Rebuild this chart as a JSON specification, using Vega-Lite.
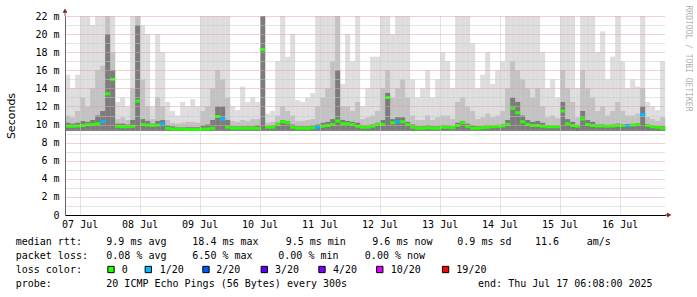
{
  "$schema": "https://vega.github.io/schema/vega-lite/v6.json",
  "background": "#ffffff",
  "padding": {"left": 5, "top": 5, "right": 2, "bottom": 2},
  "spacing": 2,
  "config": {"view": {"stroke": null}, "font": "DejaVu Sans Mono"},
  "datasets": {
    "smoke": [
      {"t":"2025-07-07T06:00Z","l":15.5,"m":11,"d":10.2,"med":9.8,"loss":0},
      {"t":"2025-07-07T08:00Z","l":14,"m":10.8,"d":10.1,"med":9.8,"loss":0},
      {"t":"2025-07-07T10:00Z","l":15.5,"m":11.5,"d":10.2,"med":9.85,"loss":0},
      {"t":"2025-07-07T12:00Z","l":22,"m":13,"d":10.4,"med":9.9,"loss":0},
      {"t":"2025-07-07T14:00Z","l":22,"m":12,"d":10.3,"med":10,"loss":0},
      {"t":"2025-07-07T16:00Z","l":21,"m":14,"d":10.5,"med":10,"loss":0},
      {"t":"2025-07-07T18:00Z","l":22,"m":16,"d":11,"med":10.1,"loss":0},
      {"t":"2025-07-07T20:00Z","l":22,"m":16.5,"d":11.5,"med":10.3,"loss":1},
      {"t":"2025-07-07T22:00Z","l":22,"m":22,"d":20,"med":13.4,"loss":0},
      {"t":"2025-07-08T00:00Z","l":22,"m":18,"d":16,"med":15,"loss":0},
      {"t":"2025-07-08T02:00Z","l":12.5,"m":10.6,"d":10.1,"med":9.8,"loss":0},
      {"t":"2025-07-08T04:00Z","l":13,"m":10.8,"d":10.1,"med":9.75,"loss":0},
      {"t":"2025-07-08T06:00Z","l":12,"m":10.5,"d":10,"med":9.75,"loss":0},
      {"t":"2025-07-08T08:00Z","l":22,"m":14,"d":10.5,"med":9.8,"loss":0},
      {"t":"2025-07-08T10:00Z","l":22,"m":22,"d":21,"med":12.6,"loss":0},
      {"t":"2025-07-08T12:00Z","l":21,"m":15,"d":10.6,"med":10,"loss":0},
      {"t":"2025-07-08T14:00Z","l":20,"m":12,"d":10.4,"med":9.95,"loss":0},
      {"t":"2025-07-08T16:00Z","l":12,"m":10.6,"d":10.1,"med":9.9,"loss":0},
      {"t":"2025-07-08T18:00Z","l":20,"m":13,"d":10.4,"med":9.95,"loss":0},
      {"t":"2025-07-08T20:00Z","l":18,"m":12,"d":10.5,"med":10.1,"loss":1},
      {"t":"2025-07-08T22:00Z","l":12.5,"m":10.5,"d":9.9,"med":9.6,"loss":0},
      {"t":"2025-07-09T00:00Z","l":11.5,"m":10.2,"d":9.8,"med":9.5,"loss":0},
      {"t":"2025-07-09T02:00Z","l":11,"m":10.1,"d":9.7,"med":9.5,"loss":0},
      {"t":"2025-07-09T04:00Z","l":12.5,"m":10.2,"d":9.7,"med":9.5,"loss":0},
      {"t":"2025-07-09T06:00Z","l":12,"m":10.3,"d":9.7,"med":9.45,"loss":0},
      {"t":"2025-07-09T08:00Z","l":12.8,"m":10.3,"d":9.7,"med":9.45,"loss":0},
      {"t":"2025-07-09T10:00Z","l":12,"m":10.2,"d":9.7,"med":9.45,"loss":0},
      {"t":"2025-07-09T12:00Z","l":22,"m":11.5,"d":9.9,"med":9.5,"loss":0},
      {"t":"2025-07-09T14:00Z","l":22,"m":12,"d":10,"med":9.5,"loss":0},
      {"t":"2025-07-09T16:00Z","l":22,"m":14,"d":10.5,"med":9.6,"loss":0},
      {"t":"2025-07-09T18:00Z","l":22,"m":16,"d":12,"med":10.9,"loss":0},
      {"t":"2025-07-09T20:00Z","l":22,"m":15,"d":12,"med":10.6,"loss":1},
      {"t":"2025-07-09T22:00Z","l":22,"m":13,"d":10.5,"med":9.7,"loss":0},
      {"t":"2025-07-10T00:00Z","l":12,"m":10.4,"d":9.8,"med":9.6,"loss":0},
      {"t":"2025-07-10T02:00Z","l":11.6,"m":10.3,"d":9.8,"med":9.6,"loss":0},
      {"t":"2025-07-10T04:00Z","l":14.2,"m":10.5,"d":9.8,"med":9.6,"loss":0},
      {"t":"2025-07-10T06:00Z","l":12.5,"m":10.4,"d":9.8,"med":9.6,"loss":0},
      {"t":"2025-07-10T08:00Z","l":13,"m":10.6,"d":9.8,"med":9.6,"loss":0},
      {"t":"2025-07-10T10:00Z","l":12.5,"m":10.6,"d":9.9,"med":9.6,"loss":0},
      {"t":"2025-07-10T12:00Z","l":22,"m":22,"d":22,"med":18.3,"loss":0},
      {"t":"2025-07-10T14:00Z","l":11.2,"m":10.2,"d":9.8,"med":9.7,"loss":0},
      {"t":"2025-07-10T16:00Z","l":11.5,"m":10.3,"d":9.9,"med":9.7,"loss":0},
      {"t":"2025-07-10T18:00Z","l":17,"m":11,"d":10.2,"med":10,"loss":0},
      {"t":"2025-07-10T20:00Z","l":22,"m":12,"d":10.5,"med":10.3,"loss":0},
      {"t":"2025-07-10T22:00Z","l":17.5,"m":11.5,"d":10.4,"med":10.2,"loss":0},
      {"t":"2025-07-11T00:00Z","l":20,"m":11,"d":10,"med":9.7,"loss":0},
      {"t":"2025-07-11T02:00Z","l":12.7,"m":10.4,"d":9.8,"med":9.6,"loss":0},
      {"t":"2025-07-11T04:00Z","l":12.5,"m":10.4,"d":9.8,"med":9.6,"loss":0},
      {"t":"2025-07-11T06:00Z","l":13,"m":10.5,"d":9.8,"med":9.6,"loss":0},
      {"t":"2025-07-11T08:00Z","l":13.5,"m":10.6,"d":9.9,"med":9.65,"loss":0},
      {"t":"2025-07-11T10:00Z","l":22,"m":12,"d":10,"med":9.7,"loss":1},
      {"t":"2025-07-11T12:00Z","l":22,"m":13,"d":10.2,"med":9.8,"loss":0},
      {"t":"2025-07-11T14:00Z","l":22,"m":14,"d":10.3,"med":9.9,"loss":0},
      {"t":"2025-07-11T16:00Z","l":22,"m":17,"d":10.6,"med":10,"loss":0},
      {"t":"2025-07-11T18:00Z","l":22,"m":22,"d":16,"med":10.4,"loss":0},
      {"t":"2025-07-11T20:00Z","l":14.5,"m":12,"d":10.5,"med":10.1,"loss":0},
      {"t":"2025-07-11T22:00Z","l":20,"m":12,"d":10.4,"med":10.1,"loss":0},
      {"t":"2025-07-12T00:00Z","l":17,"m":11.5,"d":10.3,"med":10,"loss":0},
      {"t":"2025-07-12T02:00Z","l":22,"m":12.5,"d":10.2,"med":9.8,"loss":0},
      {"t":"2025-07-12T04:00Z","l":12,"m":10.6,"d":9.9,"med":9.7,"loss":0},
      {"t":"2025-07-12T06:00Z","l":14,"m":10.8,"d":9.9,"med":9.7,"loss":0},
      {"t":"2025-07-12T08:00Z","l":17.5,"m":11,"d":10,"med":9.8,"loss":0},
      {"t":"2025-07-12T10:00Z","l":17.5,"m":11.5,"d":10.2,"med":10,"loss":0},
      {"t":"2025-07-12T12:00Z","l":22,"m":14,"d":10.5,"med":10,"loss":0},
      {"t":"2025-07-12T14:00Z","l":22,"m":16,"d":13.5,"med":13,"loss":0},
      {"t":"2025-07-12T16:00Z","l":20,"m":13,"d":10.6,"med":10.2,"loss":0},
      {"t":"2025-07-12T18:00Z","l":22,"m":14,"d":10.8,"med":10.3,"loss":1},
      {"t":"2025-07-12T20:00Z","l":22,"m":15,"d":10.8,"med":10.3,"loss":0},
      {"t":"2025-07-12T22:00Z","l":22,"m":13,"d":10.3,"med":10,"loss":0},
      {"t":"2025-07-13T00:00Z","l":15,"m":11,"d":10,"med":9.7,"loss":0},
      {"t":"2025-07-13T02:00Z","l":13,"m":10.5,"d":9.8,"med":9.6,"loss":0},
      {"t":"2025-07-13T04:00Z","l":14,"m":10.5,"d":9.8,"med":9.6,"loss":0},
      {"t":"2025-07-13T06:00Z","l":16,"m":11,"d":9.9,"med":9.65,"loss":0},
      {"t":"2025-07-13T08:00Z","l":13,"m":10.5,"d":9.8,"med":9.6,"loss":0},
      {"t":"2025-07-13T10:00Z","l":15,"m":10.8,"d":9.8,"med":9.6,"loss":0},
      {"t":"2025-07-13T12:00Z","l":18,"m":11,"d":9.9,"med":9.7,"loss":0},
      {"t":"2025-07-13T14:00Z","l":17,"m":11,"d":9.9,"med":9.7,"loss":0},
      {"t":"2025-07-13T16:00Z","l":14,"m":10.6,"d":9.8,"med":9.65,"loss":0},
      {"t":"2025-07-13T18:00Z","l":22,"m":12.5,"d":10.2,"med":9.9,"loss":0},
      {"t":"2025-07-13T20:00Z","l":22,"m":13,"d":10.4,"med":10.2,"loss":0},
      {"t":"2025-07-13T22:00Z","l":22,"m":12,"d":10.1,"med":9.8,"loss":0},
      {"t":"2025-07-14T00:00Z","l":19,"m":11.5,"d":9.9,"med":9.6,"loss":0},
      {"t":"2025-07-14T02:00Z","l":14,"m":10.6,"d":9.8,"med":9.6,"loss":0},
      {"t":"2025-07-14T04:00Z","l":15.5,"m":10.8,"d":9.8,"med":9.65,"loss":0},
      {"t":"2025-07-14T06:00Z","l":18,"m":11.2,"d":9.9,"med":9.7,"loss":0},
      {"t":"2025-07-14T08:00Z","l":14.5,"m":10.8,"d":9.9,"med":9.75,"loss":0},
      {"t":"2025-07-14T10:00Z","l":16,"m":11,"d":9.9,"med":9.8,"loss":0},
      {"t":"2025-07-14T12:00Z","l":17,"m":11.5,"d":10,"med":9.85,"loss":0},
      {"t":"2025-07-14T14:00Z","l":22,"m":14,"d":10.5,"med":10,"loss":0},
      {"t":"2025-07-14T16:00Z","l":22,"m":17,"d":13,"med":11.8,"loss":0},
      {"t":"2025-07-14T18:00Z","l":22,"m":16,"d":12.5,"med":11.3,"loss":0},
      {"t":"2025-07-14T20:00Z","l":22,"m":15,"d":11,"med":10.3,"loss":0},
      {"t":"2025-07-14T22:00Z","l":22,"m":14,"d":10.5,"med":10,"loss":0},
      {"t":"2025-07-15T00:00Z","l":22,"m":13,"d":10.3,"med":9.9,"loss":0},
      {"t":"2025-07-15T02:00Z","l":22,"m":14,"d":10.4,"med":9.9,"loss":0},
      {"t":"2025-07-15T04:00Z","l":18,"m":12,"d":10.2,"med":9.8,"loss":0},
      {"t":"2025-07-15T06:00Z","l":14,"m":10.8,"d":9.9,"med":9.75,"loss":0},
      {"t":"2025-07-15T08:00Z","l":15,"m":11,"d":9.9,"med":9.75,"loss":0},
      {"t":"2025-07-15T10:00Z","l":13,"m":10.7,"d":9.9,"med":9.75,"loss":0},
      {"t":"2025-07-15T12:00Z","l":22,"m":16,"d":12.5,"med":11.5,"loss":0},
      {"t":"2025-07-15T14:00Z","l":22,"m":14,"d":10.6,"med":10.1,"loss":0},
      {"t":"2025-07-15T16:00Z","l":22,"m":12.5,"d":10.3,"med":9.9,"loss":0},
      {"t":"2025-07-15T18:00Z","l":14,"m":10.8,"d":9.9,"med":9.8,"loss":0},
      {"t":"2025-07-15T20:00Z","l":22,"m":16,"d":11.5,"med":10.6,"loss":0},
      {"t":"2025-07-15T22:00Z","l":22,"m":14,"d":10.5,"med":10,"loss":0},
      {"t":"2025-07-16T00:00Z","l":22,"m":13,"d":10.3,"med":9.9,"loss":0},
      {"t":"2025-07-16T02:00Z","l":18,"m":11.5,"d":10,"med":9.85,"loss":0},
      {"t":"2025-07-16T04:00Z","l":20.3,"m":12,"d":10,"med":9.85,"loss":0},
      {"t":"2025-07-16T06:00Z","l":15,"m":11,"d":9.9,"med":9.8,"loss":0},
      {"t":"2025-07-16T08:00Z","l":17.5,"m":11.5,"d":10,"med":9.85,"loss":0},
      {"t":"2025-07-16T10:00Z","l":22,"m":12.5,"d":10.1,"med":9.9,"loss":0},
      {"t":"2025-07-16T12:00Z","l":17,"m":11.5,"d":10,"med":9.9,"loss":0},
      {"t":"2025-07-16T14:00Z","l":14,"m":11,"d":10,"med":9.9,"loss":1},
      {"t":"2025-07-16T16:00Z","l":15,"m":11,"d":10,"med":9.95,"loss":0},
      {"t":"2025-07-16T18:00Z","l":14.2,"m":11.2,"d":10.1,"med":10,"loss":0},
      {"t":"2025-07-16T20:00Z","l":22,"m":14,"d":12,"med":11.1,"loss":1},
      {"t":"2025-07-16T22:00Z","l":12.5,"m":10.8,"d":10,"med":9.9,"loss":0},
      {"t":"2025-07-17T00:00Z","l":12,"m":10.6,"d":9.9,"med":9.75,"loss":0},
      {"t":"2025-07-17T02:00Z","l":11.6,"m":10.4,"d":9.8,"med":9.7,"loss":0},
      {"t":"2025-07-17T04:00Z","l":17,"m":10.8,"d":9.8,"med":9.6,"loss":0}
    ],
    "legendText": [
      {"row":1,"col":0,"txt":"median rtt:"},
      {"row":1,"col":15.05,"txt":"9.9 ms avg"},
      {"row":1,"col":29.34,"txt":"18.4 ms max"},
      {"row":1,"col":44.85,"txt":"9.5 ms min"},
      {"row":1,"col":59.24,"txt":"9.6 ms now"},
      {"row":1,"col":73.36,"txt":"0.9 ms sd"},
      {"row":1,"col":86.26,"txt":"11.6"},
      {"row":1,"col":94.85,"txt":"am/s"},
      {"row":2,"col":0,"txt":"packet loss:"},
      {"row":2,"col":15.05,"txt":"0.08 % avg"},
      {"row":2,"col":29.34,"txt":"6.50 % max"},
      {"row":2,"col":43.62,"txt":"0.00 % min"},
      {"row":2,"col":58.0,"txt":"0.00 % now"},
      {"row":3,"col":0,"txt":"loss color:"},
      {"row":3,"col":17.61,"txt":"0"},
      {"row":3,"col":23.92,"txt":"1/20"},
      {"row":3,"col":33.32,"txt":"2/20"},
      {"row":3,"col":43.07,"txt":"3/20"},
      {"row":3,"col":52.71,"txt":"4/20"},
      {"row":3,"col":62.29,"txt":"10/20"},
      {"row":3,"col":73.2,"txt":"19/20"},
      {"row":4,"col":0,"txt":"probe:"},
      {"row":4,"col":15.05,"txt":"20 ICMP Echo Pings (56 Bytes) every 300s"},
      {"row":4,"col":76.8,"txt":"end: Thu Jul 17 06:08:00 2025"}
    ],
    "lossBoxes": [
      {"row":3,"col":15.83,"loss":0},
      {"row":3,"col":22.03,"loss":1},
      {"row":3,"col":31.61,"loss":2},
      {"row":3,"col":41.3,"loss":3},
      {"row":3,"col":50.88,"loss":4},
      {"row":3,"col":60.48,"loss":10},
      {"row":3,"col":71.41,"loss":19}
    ]
  },
  "vconcat": [
    {
      "width": 600,
      "height": 199,
      "data": {"name": "smoke"},
      "resolve": {"axis": {"y": "independent"}},
      "layer": [
        {
          "mark": {"type": "bar", "color": "#dddddd", "binSpacing": 0},
          "encoding": {
            "x": {"field": "t", "type": "temporal", "timeUnit": {"unit": "utcyearmonthdatehours", "step": 2},
              "scale": {"type": "utc", "domain": [{"year": 2025, "month": 7, "date": 7, "hours": 6, "minutes": 8, "utc": true}, {"year": 2025, "month": 7, "date": 17, "hours": 6, "minutes": 8, "utc": true}]},
              "axis": {"title": null,
                "values": [
                  {"year":2025,"month":7,"date":7,"hours":12,"utc":true},{"year":2025,"month":7,"date":7,"hours":18,"utc":true},
                  {"year":2025,"month":7,"date":8,"hours":0,"utc":true},{"year":2025,"month":7,"date":8,"hours":6,"utc":true},{"year":2025,"month":7,"date":8,"hours":12,"utc":true},{"year":2025,"month":7,"date":8,"hours":18,"utc":true},
                  {"year":2025,"month":7,"date":9,"hours":0,"utc":true},{"year":2025,"month":7,"date":9,"hours":6,"utc":true},{"year":2025,"month":7,"date":9,"hours":12,"utc":true},{"year":2025,"month":7,"date":9,"hours":18,"utc":true},
                  {"year":2025,"month":7,"date":10,"hours":0,"utc":true},{"year":2025,"month":7,"date":10,"hours":6,"utc":true},{"year":2025,"month":7,"date":10,"hours":12,"utc":true},{"year":2025,"month":7,"date":10,"hours":18,"utc":true},
                  {"year":2025,"month":7,"date":11,"hours":0,"utc":true},{"year":2025,"month":7,"date":11,"hours":6,"utc":true},{"year":2025,"month":7,"date":11,"hours":12,"utc":true},{"year":2025,"month":7,"date":11,"hours":18,"utc":true},
                  {"year":2025,"month":7,"date":12,"hours":0,"utc":true},{"year":2025,"month":7,"date":12,"hours":6,"utc":true},{"year":2025,"month":7,"date":12,"hours":12,"utc":true},{"year":2025,"month":7,"date":12,"hours":18,"utc":true},
                  {"year":2025,"month":7,"date":13,"hours":0,"utc":true},{"year":2025,"month":7,"date":13,"hours":6,"utc":true},{"year":2025,"month":7,"date":13,"hours":12,"utc":true},{"year":2025,"month":7,"date":13,"hours":18,"utc":true},
                  {"year":2025,"month":7,"date":14,"hours":0,"utc":true},{"year":2025,"month":7,"date":14,"hours":6,"utc":true},{"year":2025,"month":7,"date":14,"hours":12,"utc":true},{"year":2025,"month":7,"date":14,"hours":18,"utc":true},
                  {"year":2025,"month":7,"date":15,"hours":0,"utc":true},{"year":2025,"month":7,"date":15,"hours":6,"utc":true},{"year":2025,"month":7,"date":15,"hours":12,"utc":true},{"year":2025,"month":7,"date":15,"hours":18,"utc":true},
                  {"year":2025,"month":7,"date":16,"hours":0,"utc":true},{"year":2025,"month":7,"date":16,"hours":6,"utc":true},{"year":2025,"month":7,"date":16,"hours":12,"utc":true},{"year":2025,"month":7,"date":16,"hours":18,"utc":true},
                  {"year":2025,"month":7,"date":17,"hours":0,"utc":true},{"year":2025,"month":7,"date":17,"hours":6,"utc":true}
                ],
                "labelExpr": "utchours(datum.value) == 12 ? utcFormat(datum.value, '%d %b') : ''",
                "grid": true,
                "gridColor": {"condition": {"test": "utchours(datum.value) == 0", "value": "#e6a0a0"}, "value": "#c8c8c8"},
                "gridDash": [1, 1], "ticks": false, "tickSize": 0, "labelPadding": 4,
                "labelFont": "DejaVu Sans Mono", "labelFontSize": 10, "labelColor": "#000000",
                "domainColor": "#000000", "labelOverlap": false, "labelFlush": false, "zindex": 1}},
            "y": {"field": "l", "type": "quantitative", "scale": {"domain": [0, 22], "nice": false},
              "axis": {"title": "Seconds", "values": [0,1,2,3,4,5,6,7,8,9,10,11,12,13,14,15,16,17,18,19,20,21,22],
                "labelExpr": "datum.value % 2 == 0 ? (datum.value == 0 ? '0' : datum.value + ' m') : ''",
                "grid": true,
                "gridColor": {"condition": {"test": "datum.value % 2 == 0", "value": "#e6a0a0"}, "value": "#c8c8c8"},
                "gridDash": [1, 1], "ticks": false, "tickSize": 0, "labelPadding": 6,
                "labelFont": "DejaVu Sans Mono", "labelFontSize": 10, "labelColor": "#000000",
                "domainColor": "#666666", "titleFont": "DejaVu Sans", "titleFontSize": 11,
                "titleFontWeight": "normal", "titleColor": "#000000", "titlePadding": 18,
                "labelFlush": false, "labelOverlap": false, "zindex": 1}},
            "y2": {"datum": 9.3}
          }
        },
        {
          "mark": {"type": "bar", "color": "#c2c2c2", "binSpacing": 0},
          "encoding": {
            "x": {"field": "t", "type": "temporal", "timeUnit": {"unit": "utcyearmonthdatehours", "step": 2}},
            "y": {"field": "m", "type": "quantitative", "axis": null},
            "y2": {"datum": 9.3}
          }
        },
        {
          "mark": {"type": "bar", "color": "#7c7c7c", "binSpacing": 0},
          "encoding": {
            "x": {"field": "t", "type": "temporal", "timeUnit": {"unit": "utcyearmonthdatehours", "step": 2}},
            "y": {"field": "d", "type": "quantitative",
              "axis": {"orient": "right", "labels": false, "ticks": false, "domain": false, "grid": false,
                "title": "RRDTOOL / TOBI OETIKER", "titleX": 22, "titleY": -11, "titleAngle": 90,
                "titleAlign": "left", "titleBaseline": "middle", "titleFont": "DejaVu Sans Mono",
                "titleFontSize": 8, "titleFontWeight": "normal", "titleColor": "#b0b0b0"}},
            "y2": {"datum": 9.3}
          }
        },
        {
          "mark": {"type": "bar", "binSpacing": 0, "strokeWidth": 3},
          "encoding": {
            "x": {"field": "t", "type": "temporal", "timeUnit": {"unit": "utcyearmonthdatehours", "step": 2}},
            "y": {"field": "med", "type": "quantitative", "axis": null},
            "y2": {"field": "med"},
            "fill": {"field": "loss", "type": "ordinal", "legend": null,
              "scale": {"domain": [0, 1, 2, 3, 4, 10, 19], "range": ["#26ff00", "#00b8ff", "#0059ff", "#5e00ff", "#7e00ff", "#dd00ff", "#ff0000"]}},
            "stroke": {"field": "loss", "type": "ordinal", "legend": null,
              "scale": {"domain": [0, 1, 2, 3, 4, 10, 19], "range": ["#26ff00", "#00b8ff", "#0059ff", "#5e00ff", "#7e00ff", "#dd00ff", "#ff0000"]}}
          }
        },
        {
          "data": {"values": [{}]},
          "mark": {"type": "rule", "color": "#666666", "strokeWidth": 1},
          "encoding": {
            "x": {"datum": {"year": 2025, "month": 7, "date": 7, "hours": 6, "minutes": 8, "utc": true}, "type": "temporal"},
            "y": {"datum": 22, "type": "quantitative", "axis": null},
            "y2": {"datum": 22.6}
          }
        },
        {
          "data": {"values": [{}]},
          "mark": {"type": "rule", "color": "#000000", "strokeWidth": 1},
          "encoding": {
            "x": {"datum": {"year": 2025, "month": 7, "date": 17, "hours": 6, "minutes": 8, "utc": true}, "type": "temporal"},
            "x2": {"datum": {"year": 2025, "month": 7, "date": 17, "hours": 7, "minutes": 40, "utc": true}},
            "y": {"datum": 0, "type": "quantitative", "axis": null}
          }
        },
        {
          "data": {"values": [{}]},
          "mark": {"type": "point", "shape": "triangle-up", "filled": true, "size": 24, "color": "#8b1e1e", "opacity": 1},
          "encoding": {
            "x": {"datum": {"year": 2025, "month": 7, "date": 7, "hours": 6, "minutes": 8, "utc": true}, "type": "temporal"},
            "y": {"datum": 22.6, "type": "quantitative", "axis": null}
          }
        },
        {
          "data": {"values": [{}]},
          "mark": {"type": "point", "shape": "triangle-right", "filled": true, "size": 24, "color": "#8b1e1e", "opacity": 1},
          "encoding": {
            "x": {"datum": {"year": 2025, "month": 7, "date": 17, "hours": 7, "minutes": 50, "utc": true}, "type": "temporal"},
            "y": {"datum": 0, "type": "quantitative", "axis": null}
          }
        }
      ]
    },
    {
      "width": 600,
      "height": 56.4,
      "view": {"fill": "#ffffff"},
      "layer": [
        {
          "data": {"name": "legendText"},
          "mark": {"type": "text", "align": "left", "baseline": "alphabetic", "font": "DejaVu Sans Mono", "fontSize": 10, "color": "#000000"},
          "encoding": {
            "x": {"field": "col", "type": "quantitative", "scale": {"domain": [8.19, 107.86], "nice": false, "zero": false}, "axis": null},
            "y": {"field": "row", "type": "quantitative", "scale": {"domain": [0, 4], "nice": false, "reverse": true}, "axis": null},
            "text": {"field": "txt"}
          }
        },
        {
          "data": {"name": "lossBoxes"},
          "mark": {"type": "square", "size": 40, "stroke": "#000000", "strokeWidth": 1, "opacity": 1, "yOffset": -3.8},
          "encoding": {
            "x": {"field": "col", "type": "quantitative", "axis": null},
            "y": {"field": "row", "type": "quantitative", "axis": null},
            "fill": {"field": "loss", "type": "ordinal", "legend": null,
              "scale": {"domain": [0, 1, 2, 3, 4, 10, 19], "range": ["#26ff00", "#00b8ff", "#0059ff", "#5e00ff", "#7e00ff", "#dd00ff", "#ff0000"]}}
          }
        }
      ]
    }
  ]
}
